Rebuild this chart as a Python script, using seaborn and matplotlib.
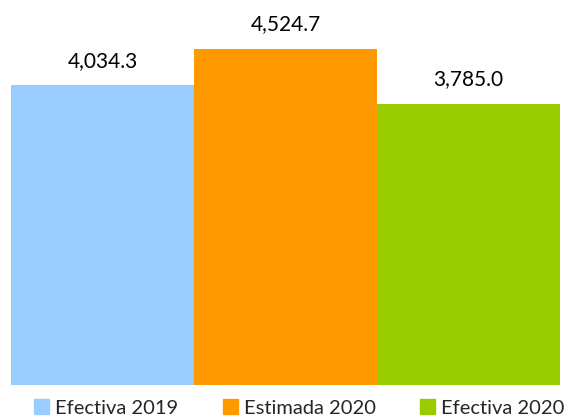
import matplotlib
matplotlib.use('Agg')
import matplotlib.pyplot as plt
import seaborn as sns

categorias = ['Efectiva 2019', 'Estimada 2020', 'Efectiva 2020']
valores = [4034.3, 4524.7, 3785.0]
colores = ['#99CCFF', '#FF9900', '#99CC00']

sns.set_style('white')
plt.rcParams['font.family'] = ['Lato', 'DejaVu Sans']

fig = plt.figure(figsize=(5.65, 4.17), dpi=100)
ax = fig.add_axes([11 / 565, 1 - 384.5 / 417, 549 / 565, 384.5 / 417])

sns.barplot(x=categorias, y=valores, hue=categorias, palette=colores,
            width=1.0, dodge=False, legend=False, ax=ax, saturation=1, linewidth=0)

for i, v in enumerate(valores):
    ax.text(i, v + 330, f'{v:,.1f}', ha='center', va='center', fontsize=15, color='#000000')

ax.set_ylim(0, 5185)
ax.set_xlim(-0.5, 2.5)
ax.axis('off')

handles = [plt.Rectangle((0, 0), 1, 1, color=c) for c in colores]
fig.legend(handles, categorias, loc='center', bbox_to_anchor=(0.53, 0.022), ncol=3,
           frameon=False, fontsize=14.5, handlelength=0.75, handleheight=0.75,
           handletextpad=0.3, columnspacing=2.2, borderaxespad=0)

fig.savefig('out.png', dpi=100)
